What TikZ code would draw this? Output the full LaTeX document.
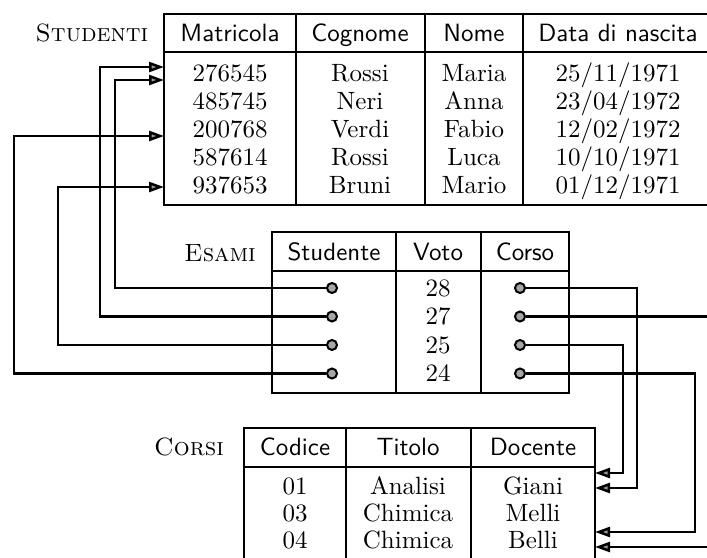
\documentclass[tikz,border=0pt]{standalone}
\usepackage{tikz}
\usetikzlibrary{arrows.meta}

\begin{document}
\begin{tikzpicture}[x=0.4pt, y=-0.4pt, font=\normalsize,
  >={Triangle[length=6pt, width=4pt, fill=black!40]},
  tb/.style={draw=black, line width=0.8pt},
  cell/.style={inner sep=0pt, text height=6.6pt, text depth=0pt},
  hd/.style={cell, font=\sffamily},
  ttl/.style={cell, font=\scshape},
  lnk/.style={->, line width=1pt},
  pin/.style={circle, draw, line width=0.8pt, fill=black!35, inner sep=0pt, minimum size=4pt}]
\useasboundingbox (0,0) rectangle (707,558);
\clip (0,0) rectangle (707,558);

% Studenti
\node[ttl] (tstud) at (92,33) {Studenti};
\draw[tb] (164,14) rectangle (714,205);
\draw[tb] (164,52) -- (714,52);
\foreach \x in {296,425,523} \draw[tb] (\x,14) -- (\x,205);
\foreach \x/\n/\t in {230/h1/Matricola, 360/h2/Cognome, 474/h3/Nome, 618/h4/Data di nascita}
  \node[hd] (s\n) at (\x,33) {\t};
\foreach \m/\c/\n/\d [count=\i] in {276545/Rossi/Maria/{25/11/1971}, 485745/Neri/Anna/{23/04/1972},
    200768/Verdi/Fabio/{12/02/1972}, 587614/Rossi/Luca/{10/10/1971}, 937653/Bruni/Mario/{01/12/1971}} {
  \pgfmathsetmacro\yy{45+28*\i}
  \node[cell] (sm\i) at (230,\yy) {\m};
  \node[cell] (sc\i) at (360,\yy) {\c};
  \node[cell] (sn\i) at (474,\yy) {\n};
  \node[cell] (sd\i) at (618,\yy) {\d};
}

% Esami
\node[ttl] (tesa) at (220,253) {Esami};
\draw[tb] (272,232) rectangle (569,393);
\draw[tb] (272,271) -- (569,271);
\foreach \x in {396,481} \draw[tb] (\x,232) -- (\x,393);
\foreach \x/\n/\t in {334/h1/Studente, 438/h2/Voto, 525/h3/Corso}
  \node[hd] (e\n) at (\x,252) {\t};
\foreach \v [count=\i] in {28,27,25,24} {
  \pgfmathsetmacro\yy{259.5+28.5*\i}
  \node[pin] (es\i) at (332,\yy) {};
  \node[cell] (ev\i) at (438,\yy) {\v};
  \node[pin] (ec\i) at (520,\yy) {};
}

% Corsi
\node[ttl] (tcor) at (189,447) {Corsi};
\draw[tb] (244,575) -- (244,428) -- (595,428) -- (595,575);
\draw[tb] (244,467) -- (595,467);
\foreach \x in {346,471} \draw[tb] (\x,428) -- (\x,575);
\foreach \x/\n/\t in {295/h1/Codice, 408/h2/Titolo, 533/h3/Docente}
  \node[hd] (c\n) at (\x,447) {\t};
\foreach \k/\t/\d [count=\i] in {01/Analisi/Giani, 03/Chimica/Melli, 04/Chimica/Belli} {
  \pgfmathsetmacro\yy{459+27*\i}
  \node[cell] (ck\i) at (295,\yy) {\k};
  \node[cell] (ct\i) at (408,\yy) {\t};
  \node[cell] (cd\i) at (533,\yy) {\d};
}

% arrow ends
\foreach \i/\y in {1/80, 2/67, 3/187, 4/136} \coordinate (sin\i) at (164,\y);
\foreach \i/\y in {1/488, 2/547, 3/473, 4/532} \coordinate (cin\i) at (595,\y);

% Studente -> Matricola
\foreach \i/\v in {1/115, 2/100, 3/58, 4/14}
  \draw[lnk] (es\i) -| (\v,0 |- sin\i) -- (sin\i);
% Corso -> Codice
\foreach \i/\v in {1/637, 2/722, 3/623, 4/695}
  \draw[lnk] (ec\i) -| (\v,0 |- cin\i) -- (cin\i);
\end{tikzpicture}
\end{document}
